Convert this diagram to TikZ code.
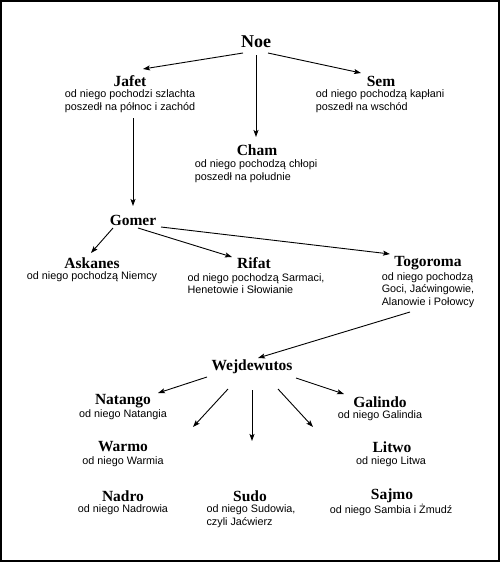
\documentclass[tikz,border=0pt]{standalone}
\usepackage{fontspec}
\setmainfont{Liberation Serif}
\newfontfamily\descfont{Liberation Sans}
\usetikzlibrary{arrows.meta,calc}
\begin{document}
\begin{tikzpicture}[x=1pt,y=-1pt,
 ttl/.style={font=\fontsize{15.5}{15.5}\selectfont\bfseries, inner sep=0pt},
 desc/.style={font=\descfont\fontsize{10.8}{12.6}\selectfont, align=left, inner sep=0pt},
 arr/.style={-{Stealth[length=7pt,width=5pt,inset=1.5pt]}, line width=0.9pt}]
\useasboundingbox (0,0) rectangle (500,562);
\draw[line width=2pt] (1,1) rectangle (499,561);

\node[ttl, font=\fontsize{18}{18}\selectfont\bfseries] (noe) at (256,42) {Noe};
\node[ttl] (jafet) at (130,81) {Jafet};
\node[desc] (jafetd) at (130,101) {od niego pochodzi szlachta\\poszedł na północ i zachód};
\node[ttl] (sem) at (381,81) {Sem};
\node[desc] (semd) at (380,101) {od niego pochodzą kapłani\\poszedł na wschód};
\node[ttl] (cham) at (257,150) {Cham};
\node[desc] (chamd) at (256,171) {od niego pochodzą chłopi\\poszedł na południe};
\node[ttl] (gomer) at (133,220) {Gomer};
\node[ttl] (askanes) at (92,263) {Askanes};
\node[desc] (askanesd) at (92,277) {od niego pochodzą Niemcy};
\node[ttl] (rifat) at (254,263) {Rifat};
\node[desc] (rifatd) at (256,283.5) {od niego pochodzą Sarmaci,\\Henetowie i Słowianie};
\node[ttl] (togoroma) at (428,263) {Togoroma};
\node[desc] (togoromad) at (428,290) {od niego pochodzą\\Goci, Jaćwingowie,\\Alanowie i Połowcy};
\node[ttl] (wejd) at (252,367) {Wejdewutos};
\node[ttl] (natango) at (123,401) {Natango};
\node[desc] (natangod) at (123,414.5) {od niego Natangia};
\node[ttl] (galindo) at (380,402) {Galindo};
\node[desc] (galindod) at (380,416) {od niego Galindia};
\node[ttl] (warmo) at (123,447) {Warmo};
\node[desc] (warmod) at (123,461.5) {od niego Warmia};
\node[ttl] (litwo) at (392,447) {Litwo};
\node[desc] (litwod) at (391,461.5) {od niego Litwa};
\node[ttl] (nadro) at (123,496) {Nadro};
\node[desc] (nadrod) at (123,510) {od niego Nadrowia};
\node[ttl] (sudo) at (250,496) {Sudo};
\node[desc] (sudod) at (251,516) {od niego Sudowia,\\czyli Jaćwierz};
\node[ttl] (sajmo) at (392,496) {Sajmo};
\node[desc] (sajmod) at (391,510) {od niego Sambia i Żmudź};

\coordinate (sw) at (193,427);
\coordinate (dn) at (252,441);
\coordinate (se) at (313,427);

\draw[arr] ($(noe)+(-13,11)$) -- ($(jafet)+(13,-12)$);
\draw[arr] ($(noe)+(0,13)$) -- ($(cham)+(-1,-13)$);
\draw[arr] ($(noe)+(12,11)$) -- ($(sem)+(-20,-8)$);
\draw[arr] ($(jafetd)+(3,17)$) -- ($(gomer)+(0,-14)$);
\draw[arr] ($(gomer)+(-20,8)$) -- ($(askanes)+(-1,-10)$);
\draw[arr] ($(gomer)+(5,8)$) -- ($(rifat)+(-22,-6)$);
\draw[arr] ($(gomer)+(28,7)$) -- ($(togoroma)+(-38,-9)$);
\draw[arr] ($(togoromad)+(-18,22)$) -- ($(wejd)+(6,-9)$);
\draw[arr] ($(wejd)+(-45,10)$) -- ($(natango)+(35,-8)$);
\draw[arr] ($(wejd)+(-24,22)$) -- (sw);
\draw[arr] ($(wejd)+(0,23)$) -- (dn);
\draw[arr] ($(wejd)+(26,22)$) -- (se);
\draw[arr] ($(wejd)+(44,11)$) -- ($(galindo)+(-36,-8)$);
\end{tikzpicture}
\end{document}
